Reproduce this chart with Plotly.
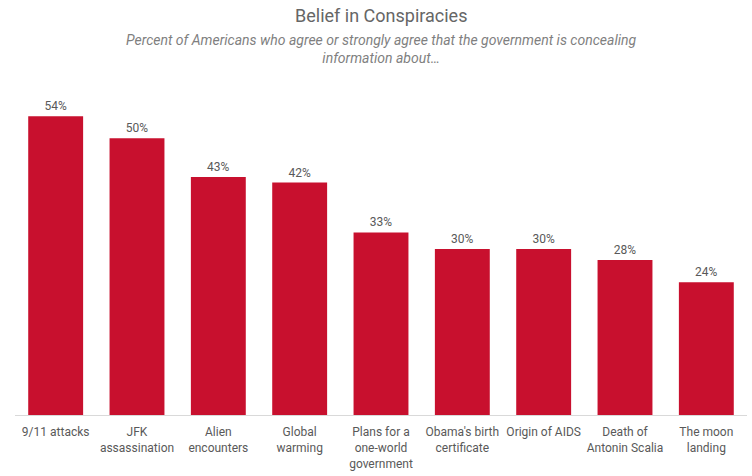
import plotly.graph_objects as go

categories = ["9/11 attacks", "JFK<br>assassination", "Alien<br>encounters", "Global<br>warming",
              "Plans for a<br>one-world<br>government", "Obama's birth<br>certificate",
              "Origin of AIDS", "Death of<br>Antonin Scalia", "The moon<br>landing"]
values = [54, 50, 43, 42, 33, 30, 30, 28, 24]
labels = [f"{v}%" for v in values]

top, bottom = 83, 415
ph = bottom - top

def py(pixel_y):
    return (bottom - pixel_y) / ph

fig = go.Figure(go.Bar(
    x=categories, y=values, text=labels, textposition="outside",
    marker=dict(color="#C8102E", line=dict(width=0)),
    textfont=dict(family="Roboto", size=12, color="#595959"),
    cliponaxis=False,
))

fig.update_layout(
    width=752, height=476,
    margin=dict(l=15, r=5, t=top, b=476 - bottom),
    paper_bgcolor="white", plot_bgcolor="white",
    bargap=0.325,
    showlegend=False,
    xaxis=dict(showline=True, linecolor="#d9d9d9", linewidth=1,
               ticks="outside", tickcolor="rgba(0,0,0,0)", ticklen=6,
               tickfont=dict(family="Roboto", size=12, color="#595959")),
    yaxis=dict(range=[0, 60], visible=False, showgrid=False),
    annotations=[
        dict(text="Belief in Conspiracies", xref="paper", yref="paper",
             x=0.5, y=py(16), xanchor="center", yanchor="middle", showarrow=False,
             font=dict(family="Roboto", size=18, color="#666666")),
        dict(text="<i>Percent of Americans who agree or strongly agree that the government is concealing<br>information about…</i>",
             xref="paper", yref="paper", x=0.5, y=py(49), xanchor="center", yanchor="middle",
             showarrow=False, font=dict(family="Roboto", size=14, color="#7f7f7f")),
    ],
)

fig.write_html("out.html")
